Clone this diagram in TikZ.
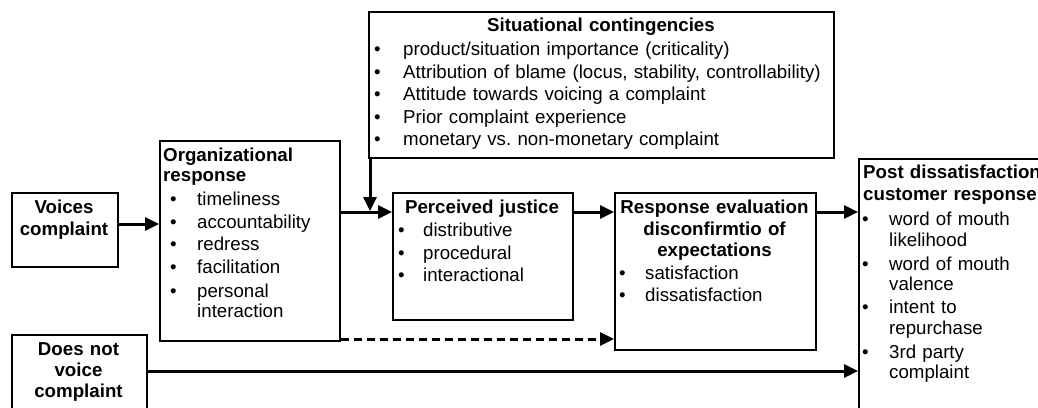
\documentclass[tikz,border=0pt]{standalone}
\usepackage{fontspec}
\setmainfont{Liberation Sans}
\usetikzlibrary{arrows.meta}
\frenchspacing
% bullet line: indent, bullet column width, text
\newcommand{\bi}[3]{\hspace*{#1}\makebox[#2][l]{•}#3}
\tikzset{
  box/.style={draw, line width=1.5pt, rectangle, anchor=north west, inner sep=0pt, fill=white},
  txt/.style={inner sep=0pt, font=\fontsize{18.7}{20}\selectfont},
  lefttxt/.style={txt, anchor=base west, align=left, text width=#1},
  midtxt/.style={txt, anchor=base, align=center, text width=#1, font=\fontsize{18.7}{20}\selectfont\bfseries},
  arr/.style={line width=3pt, -{Triangle[length=14pt,width=13pt]}},
}
\begin{document}
\begin{tikzpicture}[x=1pt, y=-1pt]
\useasboundingbox (0,0) rectangle (1038,407);
\clip (0,0) rectangle (1038,407);

% boxes
\node[box, minimum width=106pt, minimum height=74pt]  (voices) at (11,192) {};
\node[box, minimum width=135pt, minimum height=100pt] (dnv)    at (11,334) {};
\node[box, minimum width=180pt, minimum height=200pt] (org)    at (159,140) {};
\node[box, minimum width=465pt, minimum height=146pt] (sit)    at (368,11) {};
\node[box, minimum width=180pt, minimum height=127pt] (pj)     at (392,192) {};
\node[box, minimum width=201pt, minimum height=157pt] (re)     at (614,192) {};
\node[box, minimum width=200pt, minimum height=300pt] (post)   at (858,158) {};

% texts
\node[midtxt=120pt] (voicesT) at (64,213.3) {Voices\\[1.7pt]complaint};
\node[midtxt=130pt] (dnvT) at (78.5,355) {Does not\\[1.7pt]voice\\[1pt]complaint};

\node[lefttxt=175pt] (orgT) at (163,161.7) {%
  \textbf{Organizational}\\
  \textbf{response}\\[3.3pt]
  \bi{7pt}{27pt}{timeliness}\\[3.3pt]
  \bi{7pt}{27pt}{accountability}\\[1.7pt]
  \bi{7pt}{27pt}{redress}\\[3.3pt]
  \bi{7pt}{27pt}{facilitation}\\[3.7pt]
  \bi{7pt}{27pt}{personal}\\
  \hspace*{34pt}interaction};

\node[midtxt=460pt] (sitT) at (601,31.7) {Situational contingencies};
\node[lefttxt=460pt] (sitI) at (374,55.5) {%
  \bi{0pt}{29pt}{product/situation importance (criticality)}\\[2.5pt]
  \bi{0pt}{29pt}{Attribution of blame (locus, stability, controllability)}\\[2.5pt]
  \bi{0pt}{29pt}{Attitude towards voicing a complaint}\\[2.5pt]
  \bi{0pt}{29pt}{Prior complaint experience}\\[2.5pt]
  \bi{0pt}{29pt}{monetary vs. non-monetary complaint}};

\node[midtxt=180pt] (pjT) at (482,213.3) {Perceived justice};
\node[lefttxt=170pt] (pjI) at (398,236) {%
  \bi{0pt}{25pt}{distributive}\\[3pt]
  \bi{0pt}{25pt}{procedural}\\[2pt]
  \bi{0pt}{25pt}{interactional}};

\node[midtxt=200pt] (reT) at (714.5,213) {Response evaluation\\[2pt]disconfirmtio of\\[1.7pt]expectations};
\node[lefttxt=190pt] (reI) at (619,279.3) {%
  \bi{0pt}{26pt}{satisfaction}\\[2pt]
  \bi{0pt}{26pt}{dissatisfaction}};

\node[lefttxt=200pt] (postT) at (862,178) {%
  \textbf{\hspace*{1pt}Post dissatisfaction}\\[2pt]
  \textbf{\hspace*{1pt}customer response}\\[5pt]
  \bi{0pt}{27pt}{word of mouth}\\[1.7pt]
  \hspace*{27pt}likelihood\\[3.3pt]
  \bi{0pt}{27pt}{word of mouth}\\
  \hspace*{27pt}valence\\[3pt]
  \bi{0pt}{27pt}{intent to}\\[1pt]
  \hspace*{27pt}repurchase\\[4pt]
  \bi{0pt}{27pt}{3rd party}\\
  \hspace*{27pt}complaint};

% connectors
\coordinate (join) at (370,211);
\draw[arr] (voices.east |- 0,224) -- (org.west |- 0,224);
\draw[arr] (sit.south -| join) -- (join);
\draw[arr] (org.east |- 0,212) -- (pj.west |- 0,212);
\draw[arr] (pj.east |- 0,212) -- (re.west |- 0,212);
\draw[arr] (re.east |- 0,212) -- (post.west |- 0,212);
\draw[arr, dash pattern=on 8pt off 5pt] (org.south east |- 0,339) -- (re.west |- 0,339);
\draw[arr] (dnv.east |- 0,371) -- (post.west |- 0,371);
\end{tikzpicture}
\end{document}
